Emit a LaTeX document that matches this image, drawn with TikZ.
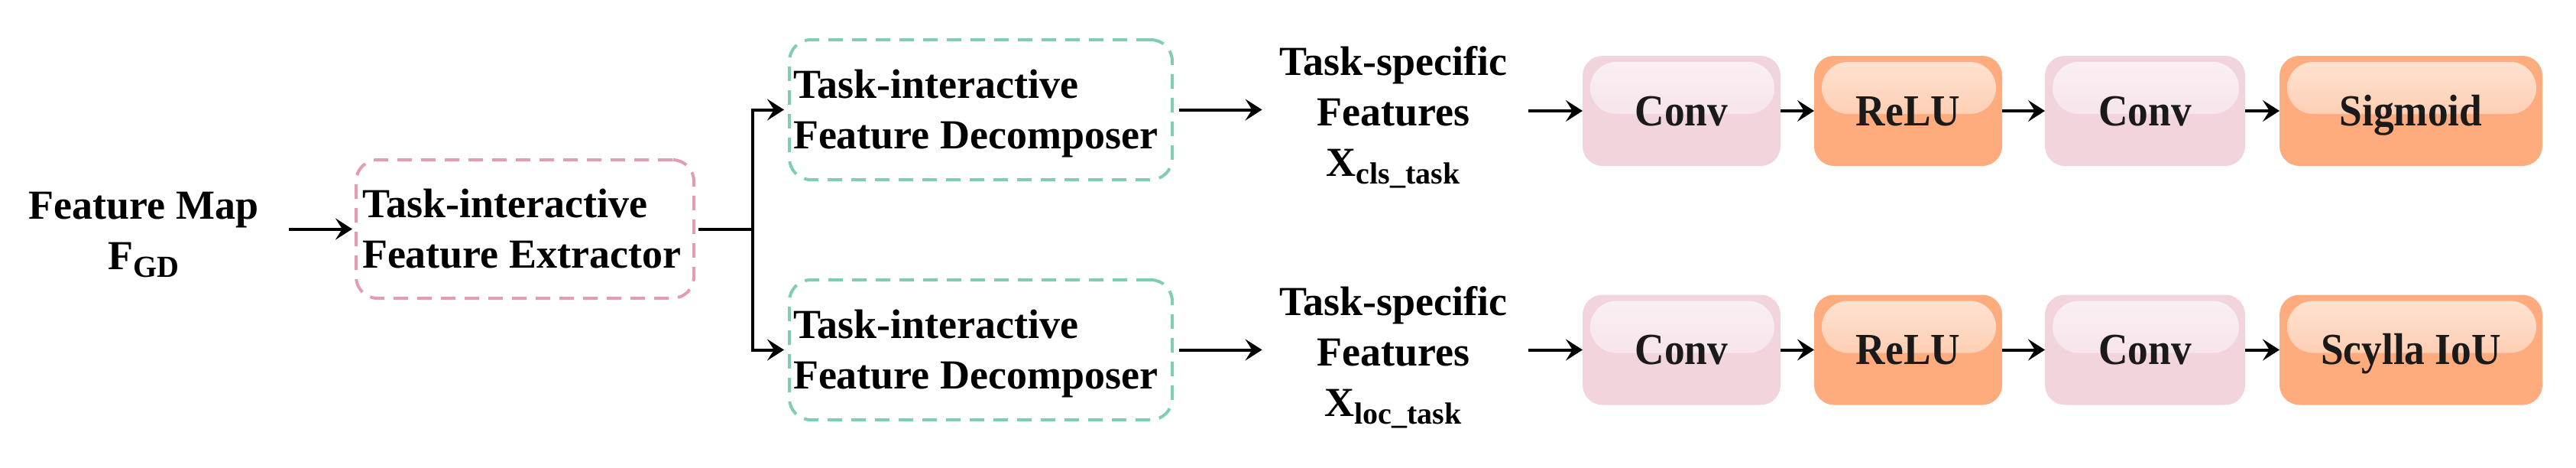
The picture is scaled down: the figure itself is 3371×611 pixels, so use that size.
\documentclass[tikz,border=0pt]{standalone}
\usepackage{fontspec}
\setmainfont{Liberation Serif}
\newfontfamily\boxfont[FakeStretch=0.92]{Liberation Serif}
\usetikzlibrary{arrows.meta,calc}
\definecolor{dashpink}{HTML}{E29DB2}
\definecolor{dashgreen}{HTML}{80CDB4}
\definecolor{convbase}{HTML}{F2D4DC}
\definecolor{convtop}{HTML}{FAF0F4}
\definecolor{convbot}{HTML}{F4DBE2}
\definecolor{actbase}{HTML}{FEAC7E}
\definecolor{acttop}{HTML}{FFE4D4}
\definecolor{actbot}{HTML}{FDBC97}
\definecolor{ink}{HTML}{1A1A1A}
\newcommand\lowsub[1]{\raisebox{-2.5pt}{\fontsize{10pt}{10pt}\selectfont #1}}
\begin{document}
\begin{tikzpicture}[x=0.25pt,y=-0.25pt,
  every node/.style={inner sep=0pt, outer sep=0pt},
  lbl/.style={font=\fontsize{13.5pt}{16.5pt}\selectfont\bfseries, align=center},
  dashbox/.style={draw, line width=1pt, dash pattern=on 4.75pt off 3pt, rounded corners=7pt,
    font=\fontsize{13.5pt}{16.5pt}\selectfont\bfseries, align=flush left, inner ysep=0pt},
  arr/.style={-{Stealth[length=5.5pt,width=7pt,inset=2.2pt]}, line width=1pt},
  plainline/.style={line width=1pt},
  glossy/.style n args={3}{fill=#1, rounded corners=6.5pt, minimum height=36pt,
    font=\boxfont\fontsize{14.5pt}{16pt}\selectfont\bfseries, text=ink,
    text height=9.6pt, text depth=0pt,
    path picture={\fill[top color=#2, bottom color=#3, rounded corners=8.5pt]
      ($(path picture bounding box.north west)+(2.5pt,-2pt)$) rectangle
      ($(path picture bounding box.north east)+(-2pt,-19pt)$);}}
]
\useasboundingbox (0,0) rectangle (3371,611);

% input
\node[lbl, anchor=north] (fm) at (188,251) {Feature Map\\F\lowsub{GD}};
\node[dashbox, draw=dashpink, inner xsep=2pt, minimum width=110.5pt, minimum height=45.25pt,
  text width=106.5pt] (fe) at (687,299.5) {Task-interactive\\Feature Extractor};

% decomposers
\node[dashbox, draw=dashgreen, inner xsep=1.25pt, minimum width=125.25pt, minimum height=45.75pt,
  text width=122.75pt] (tdA) at (1283.5,143.5) {\rule{0pt}{12.1pt}Task-interactive\\Feature Decomposer};
\node[dashbox, draw=dashgreen, inner xsep=1.25pt, minimum width=125.25pt, minimum height=45.75pt,
  text width=122.75pt] (tdB) at (1283.5,457.5) {\rule{0pt}{12.1pt}Task-interactive\\Feature Decomposer};

% task-specific features
\node[lbl, anchor=north] (tsA) at (1823,60) {Task-specific\\Features\\X\lowsub{cls\_task}};
\node[lbl, anchor=north] (tsB) at (1823,374) {Task-specific\\Features\\X\lowsub{loc\_task}};

% heads
\node[glossy={convbase}{convtop}{convbot}, minimum width=64.75pt] (cA1) at (2200.5,145) {Conv};
\node[glossy={actbase}{acttop}{actbot}, minimum width=61.5pt] (rA) at (2497,145) {ReLU};
\node[glossy={convbase}{convtop}{convbot}, minimum width=65.5pt] (cA2) at (2807,145) {Conv};
\node[glossy={actbase}{acttop}{actbot}, minimum width=86pt] (sA) at (3155,145) {Sigmoid};

\node[glossy={convbase}{convtop}{convbot}, minimum width=64.75pt] (cB1) at (2200.5,457.5) {Conv};
\node[glossy={actbase}{acttop}{actbot}, minimum width=61.5pt] (rB) at (2497,457.5) {ReLU};
\node[glossy={convbase}{convtop}{convbot}, minimum width=65.5pt] (cB2) at (2807,457.5) {Conv};
\node[glossy={actbase}{acttop}{actbot}, minimum width=86pt] (sB) at (3155,457.5) {Scylla IoU};

% connectors
\draw[arr] ($(fm.east |- fe.west)+(10pt,0)$) -- ($(fe.west)+(-1.25pt,0)$);
\coordinate (br) at (985,299.5);
\draw[plainline] ($(fe.east)+(1.5pt,0)$) -- (br);
\draw[arr] (br) |- ($(tdA.west)+(-1.75pt,0)$);
\draw[arr] (br) |- ($(tdB.west)+(-1.75pt,0)$);

\draw[arr] ($(tdA.east)+(2.25pt,0)$) -- ($(tsA.west |- tdA.east)+(-5.6pt,0)$);
\draw[arr] ($(tdB.east)+(2.25pt,0)$) -- ($(tsB.west |- tdB.east)+(-5.6pt,0)$);

\draw[arr] ($(tsA.east |- cA1.west)+(6.9pt,0)$) -- (cA1.west);
\draw[arr] ($(tsB.east |- cB1.west)+(6.9pt,0)$) -- (cB1.west);

\draw[arr] (cA1) -- (rA);
\draw[arr] (rA) -- (cA2);
\draw[arr] (cA2) -- (sA);
\draw[arr] (cB1) -- (rB);
\draw[arr] (rB) -- (cB2);
\draw[arr] (cB2) -- (sB);
\end{tikzpicture}
\end{document}
